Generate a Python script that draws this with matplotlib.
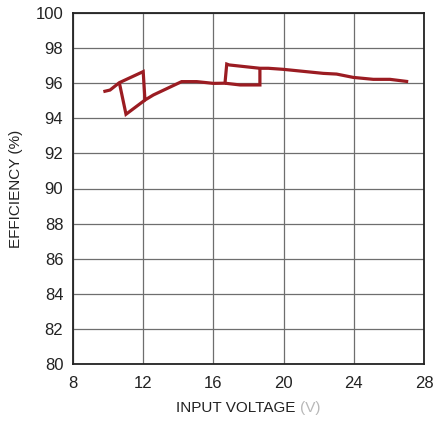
import matplotlib
matplotlib.use("Agg")
import matplotlib.pyplot as plt

plt.rcParams['font.family'] = ['Liberation Sans', 'DejaVu Sans']

# main sweep
v_main = [9.73, 10.11, 10.64, 12.0, 12.1, 12.58, 14.19, 15.05, 16.0, 16.66, 16.76, 16.9, 18.65, 19.13, 19.98, 22.26, 23.02, 23.97, 25.11, 26.06, 27.1]
eff_main = [95.52, 95.61, 96.03, 96.66, 95.04, 95.33, 96.09, 96.09, 95.99, 96.0, 97.09, 97.04, 96.85, 96.85, 96.79, 96.56, 96.52, 96.33, 96.22, 96.22, 96.09]
# return branches (hysteresis)
v_ret1 = [10.64, 11.02, 12.1]
eff_ret1 = [96.03, 94.23, 95.04]
v_ret2 = [16.66, 17.52, 18.65, 18.65]
eff_ret2 = [96.0, 95.9, 95.9, 96.85]

xticks = [8, 12, 16, 20, 24, 28]
yticks = list(range(80, 101, 2))

fig = plt.figure(figsize=(4.35, 4.22), dpi=100)
ax = fig.add_axes([73/435, 1-364/422, (424-73)/435, (364-13)/422])
col = '#9b1c22'
for x, y in [(v_main, eff_main), (v_ret1, eff_ret1), (v_ret2, eff_ret2)]:
    ax.plot(x, y, color=col, lw=2.3, solid_joinstyle='miter', solid_capstyle='butt', zorder=3)

ax.set_xlim(8, 28)
ax.set_ylim(80, 100)
ax.set_xticks(xticks)
ax.set_yticks(yticks)
ax.grid(True, color='#6e6e6e', lw=0.9)
ax.tick_params(axis='both', length=0, labelsize=12, colors='#222222')
ax.tick_params(axis='y', pad=7)
ax.tick_params(axis='x', pad=9)
for s in ax.spines.values():
    s.set_color('#222222')
    s.set_linewidth(1.3)

ax.set_ylabel('EFFICIENCY (%)', fontsize=11, color='#222222', labelpad=9)

# x label in two parts: dark text + light gray unit
ylab = 1 - 408/422
t1 = fig.text(0, ylab, 'INPUT VOLTAGE ', fontsize=11, color='#222222', va='center', ha='left')
t2 = fig.text(0, ylab, '(V)', fontsize=11, color='#b8b8b8', va='center', ha='left')
fig.canvas.draw()
r = fig.canvas.get_renderer()
w1 = t1.get_window_extent(r).width
w2 = t2.get_window_extent(r).width
cx = 248.5
x0 = cx - (w1 + w2) / 2
t1.set_x(x0 / 435)
t2.set_x((x0 + w1) / 435)

fig.savefig('out.png', dpi=100)
